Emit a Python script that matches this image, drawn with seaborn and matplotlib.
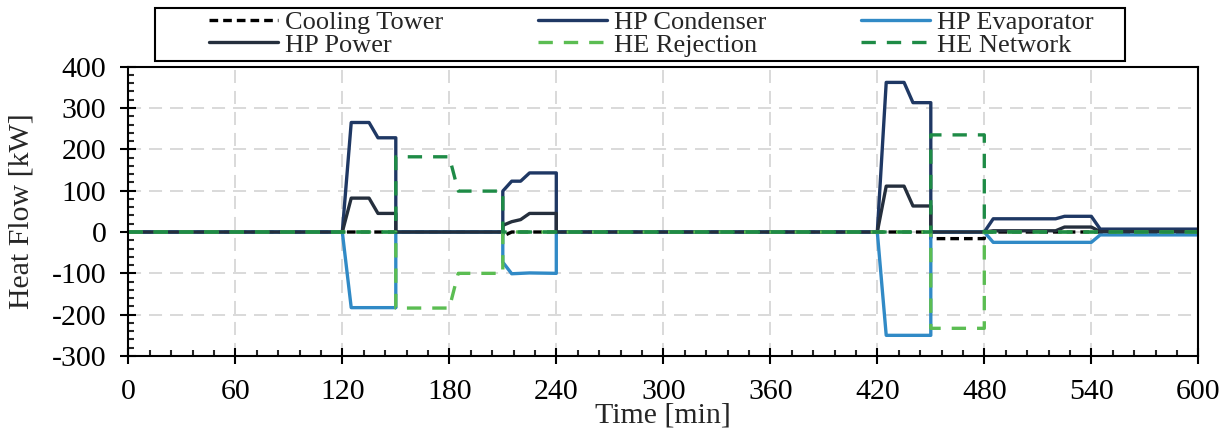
import matplotlib
matplotlib.use('Agg')
import matplotlib.pyplot as plt
import seaborn as sns
from matplotlib.ticker import MultipleLocator
from matplotlib.patches import Rectangle

# time grid in minutes (repeated points = step changes)
time_min = [0, 120, 125, 135, 140, 150, 150, 180, 185, 210, 210, 215, 220, 225, 240, 240,
            420, 425, 435, 440, 450, 450, 480, 480, 485, 520, 525, 540, 545, 600]

cooling_tower = [0, 0, 0, 0, 0, 0, 0, 0, 0, 0, -10, 0, 0, 0, 0, 0,
                 0, 0, 0, 0, 0, -16, -16, 0, 0, 0, 0, 0, 0, 0]
hp_condenser = [0, 0, 265, 265, 228, 228, 0, 0, 0, 0, 99, 123, 123, 143, 143, 0,
                0, 362, 362, 313, 313, 0, 0, 0, 32, 32, 38, 38, 7, 7]
hp_evaporator = [0, 0, -183, -183, -183, -183, 0, 0, 0, 0, -73, -101, -100, -99, -100, 0,
                 0, -250, -250, -250, -250, 0, 0, 0, -25, -25, -25, -25, -7, -7]
hp_power = [0, 0, 82, 82, 45, 45, 0, 0, 0, 0, 16, 25, 30, 45, 45, 0,
            0, 111, 111, 63, 63, 0, 0, 0, 3, 3, 12, 12, 1, 1]
he_rejection = [0, 0, 0, 0, 0, 0, -184, -184, -100, -100, 0, 0, 0, 0, 0, 0,
                0, 0, 0, 0, 0, -233, -233, 0, 0, 0, 0, 0, 0, 0]
he_network = [0, 0, 0, 0, 0, 0, 182, 182, 99, 99, 0, 0, 0, 0, 0, 0,
              0, 0, 0, 0, 0, 235, 235, 0, 0, 0, 0, 0, 0, 0]

series = [
    ('Cooling Tower', cooling_tower, 'black', (2.6, 1.5)),
    ('HP Condenser', hp_condenser, '#1f3864', None),
    ('HP Evaporator', hp_evaporator, '#318ac6', None),
    ('HP Power', hp_power, '#252f3d', None),
    ('HE Rejection', he_rejection, '#5bbd52', (4.3, 3.3)),
    ('HE Network', he_network, '#1e8b46', (4.3, 3.3)),
]

sns.set_style('ticks')
plt.rcParams['font.family'] = ['Liberation Serif', 'DejaVu Serif']
plt.rcParams['axes.unicode_minus'] = False

fig = plt.figure(figsize=(12.31, 4.36), dpi=100)
ax = fig.add_axes([128.3 / 1231, 1 - 356 / 436, 1070 / 1231, 289.3 / 436])

lines = {}
for name, vals, col, dash in series:
    sns.lineplot(x=time_min, y=vals, ax=ax, color=col, lw=2.4, label=name,
                 estimator=None, sort=False, legend=False)
    ln = ax.get_lines()[-1]
    if dash is not None:
        ln.set_dashes(dash)
    lines[name] = ln

ax.set_xlim(0, 600)
ax.set_ylim(-300, 400)
ax.set_xticks(range(0, 601, 60))
ax.set_yticks(range(-300, 401, 100))
ax.xaxis.set_minor_locator(MultipleLocator(12))
ax.yaxis.set_minor_locator(MultipleLocator(20))
ax.grid(True, which='major', color='#d9d9d9', ls=(0, (6.7, 4.1)), lw=1.4)
ax.set_axisbelow(True)
ax.tick_params(which='major', direction='inout', length=11.5, width=1.5,
               labelsize=21.5, colors='black', top=False, right=False)
ax.tick_params(axis='x', which='major', pad=11)
ax.tick_params(axis='y', which='major', pad=10)
ax.tick_params(which='minor', direction='in', length=4.5, width=1.5, top=False, right=False)
for s in ax.spines.values():
    s.set_color('black')
    s.set_linewidth(1.5)

ax.set_xlabel('Time [min]', fontsize=21.5)
ax.set_ylabel('Heat Flow [kW]', fontsize=21.5)
ax.xaxis.set_label_coords(0.5, -0.162)
ax.yaxis.set_label_coords(-0.088, 0.5)

order = ['Cooling Tower', 'HP Power', 'HP Condenser', 'HE Rejection', 'HP Evaporator', 'HE Network']
ax.legend(handles=[lines[n] for n in order], labels=order, ncol=3, loc='upper left',
          bbox_to_anchor=(209 / 1231, 1 - 11 / 436), bbox_transform=fig.transFigure,
          frameon=False, fontsize=19, handlelength=2.6, handletextpad=0.27,
          columnspacing=3.6, borderpad=0, labelspacing=-0.05, borderaxespad=0)
fig.add_artist(Rectangle((155 / 1231, 1 - 61 / 436), (1125 - 155) / 1231, 53 / 436,
                         transform=fig.transFigure, fill=False, ec='black', lw=1.5))

fig.savefig('out.png', dpi=100)
